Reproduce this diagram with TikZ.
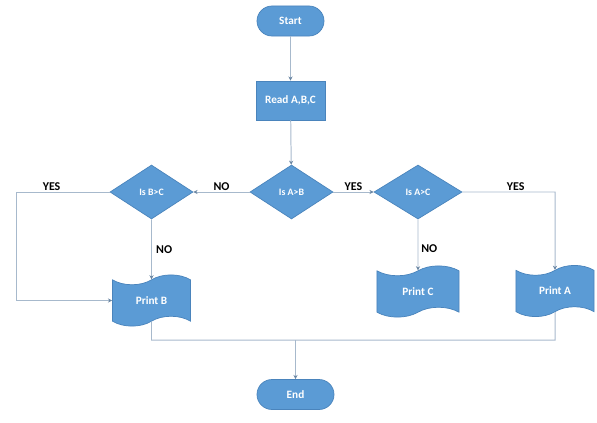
\documentclass[tikz,border=0pt]{standalone}
\usepackage{fontspec}
\setmainfont{Carlito}
\definecolor{fblue}{HTML}{5B9BD5}
\definecolor{eblue}{HTML}{4A84BC}
\definecolor{lgrey}{HTML}{A7B9CC}
\definecolor{tipc}{HTML}{6A86A3}
\usetikzlibrary{arrows.meta}
\usetikzlibrary{shapes.geometric, shapes.symbols}

\begin{document}
\begin{tikzpicture}[x=0.025cm, y=-0.025cm,
	box/.style={fill=fblue, draw=eblue, line width=0.5pt, text=white,
		font=\fontsize{8}{10}\selectfont\bfseries, inner sep=0pt},
	term/.style={box, rounded corners=0.375cm, minimum height=0.75cm},
	cond/.style={box, diamond, minimum width=2.075cm, minimum height=1.35cm,
		font=\fontsize{7}{8}\selectfont\bfseries},
	prt/.style={box, tape, minimum width=1.95cm, minimum height=1.28cm, tape bend height=7pt},
	lbl/.style={font=\fontsize{8.5}{10}\selectfont\bfseries, text=black, inner sep=1pt},
	link/.style={draw=lgrey, line width=0.7pt},
	arr/.style={link, -{Stealth[length=3pt, width=3pt, color=tipc]}}]
	\useasboundingbox (0,0) rectangle (597,422);
	% terminals and boxes
	\node[term, minimum width=1.675cm] (start) at (290.5,21) {Start};
	\node[box, minimum width=1.725cm, minimum height=0.975cm] (read) at (290.5,100.5) {Read A,B,C};
	\node[cond] (ab) at (291.5,192) {Is A>B};
	\node[cond] (bc) at (151.5,192) {Is B>C};
	\node[cond, minimum width=2.2cm] (ac) at (418,192) {Is A>C};
	\node[prt] (pb) at (151.5,300.5) {Print B};
	\node[prt, minimum width=2.05cm] (pc) at (418,291.5) {Print C};
	\node[prt] (pa) at (555,291) {Print A};
	\node[term, minimum width=1.925cm] (end) at (295.5,394.5) {End};
	% corners
	\coordinate (yb) at (16,192);
	\coordinate (ya) at (555,192);
	\coordinate (jl) at (151.5,340);
	\coordinate (jr) at (555,340);
	% links
	\draw[arr] (start) -- (read);
	\draw[arr] (read) -- (ab);
	\draw[arr] (ab) -- node[lbl, above] (nab) {NO} (bc);
	\draw[arr] (ab) -- node[lbl, above] (yab) {YES} (ac);
	\draw[arr] (bc) -- node[lbl, above, pos=0.62] (ybc) {YES} (yb) |- (pb);
	\draw[arr] (bc) -- node[lbl, right=2pt] (nbc) {NO} (pb);
	\draw[arr] (ac) -- node[lbl, right=1pt, pos=0.58] (nac) {NO} (pc);
	\draw[arr] (ac) -- node[lbl, above, pos=0.575] (yac) {YES} (ya) -- (pa);
	\draw[link] (pb) -- (jl) -- (jr) -- (pa);
	\draw[arr] (end |- jl) -- (end);
\end{tikzpicture}
\end{document}
